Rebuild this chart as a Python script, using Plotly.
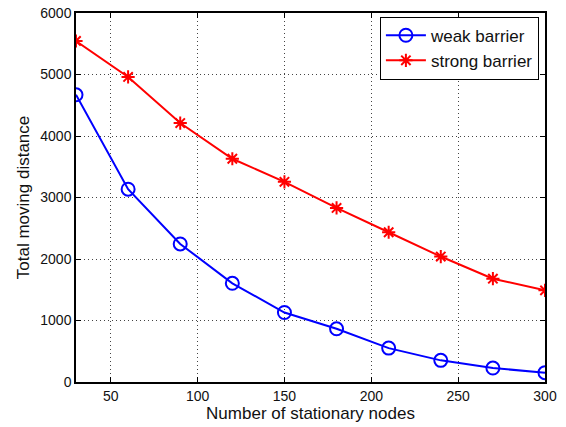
import plotly.graph_objects as go

x_nodes = [30, 60, 90, 120, 150, 180, 210, 240, 270, 300]
weak_barrier = [4670, 3135, 2245, 1605, 1130, 865, 551, 352, 227, 152]
strong_barrier = [5545, 4960, 4210, 3630, 3255, 2830, 2435, 2040, 1680, 1490]

x_ticks = [50, 100, 150, 200, 250, 300]
y_ticks = [0, 1000, 2000, 3000, 4000, 5000, 6000]

FONT = "Liberation Sans, Arial, sans-serif"

fig = go.Figure()
fig.add_trace(go.Scatter(
    x=x_nodes, y=weak_barrier, mode="lines+markers", name="weak barrier",
    line=dict(color="#0000ff", width=2),
    marker=dict(symbol="circle-open", size=13, color="#0000ff", line=dict(width=2)),
))
fig.add_trace(go.Scatter(
    x=x_nodes, y=strong_barrier, mode="lines+markers", name="strong barrier",
    line=dict(color="#ff0000", width=2),
    marker=dict(symbol="asterisk-open", size=11, color="#ff0000", line=dict(width=2, color="#ff0000")),
))

axis_common = dict(
    showline=True, linecolor="black", linewidth=1.5, mirror="ticks",
    ticks="inside", ticklen=5, tickcolor="black",
    showgrid=True, gridcolor="#444444", griddash="1px,3px", gridwidth=1,
    zeroline=False, automargin=False,
    tickfont=dict(family=FONT, size=14, color="#111111"),
)

fig.update_xaxes(range=[30, 300], tickvals=x_ticks,
                 title=dict(text="Number of stationary nodes", standoff=4,
                            font=dict(family=FONT, size=17, color="#111111")),
                 **axis_common)
fig.update_yaxes(range=[0, 6000], tickvals=y_ticks,
                 title=dict(text="Total moving distance", standoff=6,
                            font=dict(family=FONT, size=17, color="#111111")),
                 **axis_common)

fig.update_layout(
    width=566, height=427,
    margin=dict(l=76, r=21, t=13, b=45),
    plot_bgcolor="white", paper_bgcolor="white",
    legend=dict(x=0.987, y=0.99, xanchor="right", yanchor="top",
                bgcolor="white", bordercolor="black", borderwidth=1,
                font=dict(family=FONT, size=17, color="#111111"),
                tracegroupgap=0, itemwidth=40),
    showlegend=True,
)

fig.write_html("out.html")
